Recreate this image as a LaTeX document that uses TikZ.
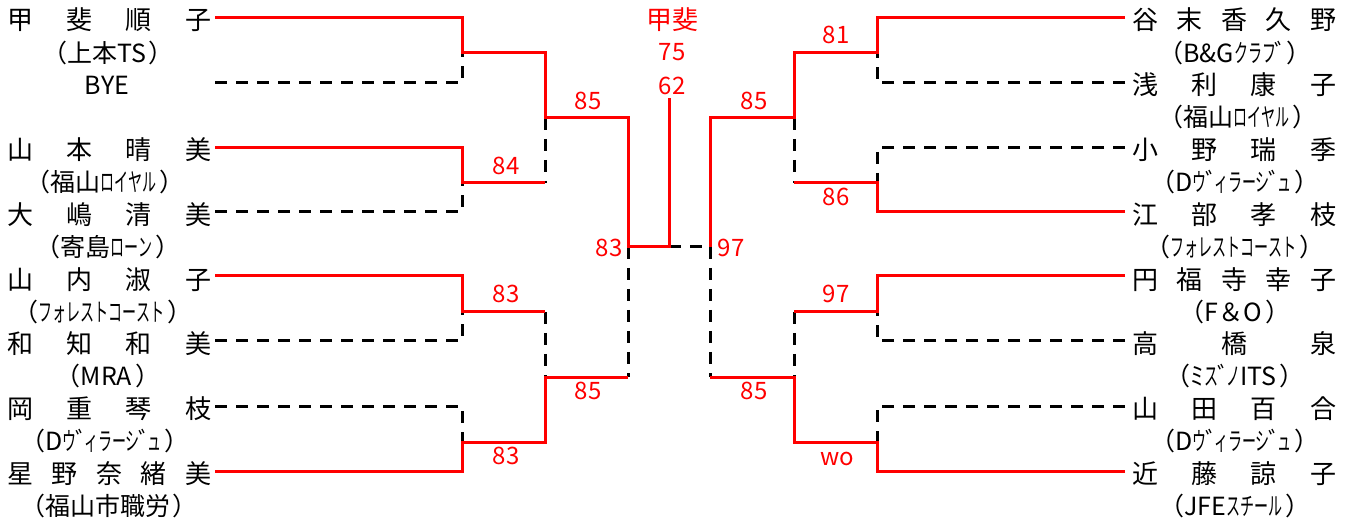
\documentclass[tikz,border=0pt]{standalone}
\usepackage{fontspec}
\usepackage{graphicx}
\setmainfont{Noto Sans CJK JP}
\newfontfamily\hk[FakeStretch=0.56]{Noto Sans CJK JP}
\newcommand\spreadname[1]{\makebox[204pt][s]{#1}}
\newcommand\club[1]{（#1\kern0.12em）}
\newcommand\dkt{\kern-0.06em ﾞ\kern-0.14em}
\tikzset{
  redline/.style={draw=red, line width=3pt, line join=miter},
  dashline/.style={draw=black, line width=3pt, dash pattern=on 12pt off 9pt},
  pname/.style={anchor=west, inner sep=0pt, font=\fontsize{26}{26}\selectfont},
  clubt/.style={inner sep=0pt, font=\fontsize{25}{25}\selectfont},
  score/.style={inner sep=0pt, text=red, font=\fontsize{24}{24}\selectfont},
}
\begin{document}
\begin{tikzpicture}[x=1pt,y=-1pt]
\useasboundingbox (0,0) rectangle (1355,521);
% ---------- left names ----------
\node[pname] (n1) at (7,20) {\spreadname{甲\hfill 斐\hfill 順\hfill 子}};
\node[clubt] (c1) at (108,53) {\club{上本TS}};
\node[clubt] (bye) at (107,85.5) {BYE};
\node[pname] (n3) at (7,150) {\spreadname{山\hfill 本\hfill 晴\hfill 美}};
\node[clubt] (c3) at (105,182) {\club{福山{\hk ロイヤル}}};
\node[pname] (n4) at (7,214.4) {\spreadname{大\hfill 嶋\hfill 清\hfill 美}};
\node[clubt] (c4) at (108,246.8) {\club{寄島{\hk ローン}}};
\node[pname] (n5) at (7,280) {\spreadname{山\hfill 内\hfill 淑\hfill 子}};
\node[clubt] (c5) at (103,311.6) {\club{{\hk フォレストコースト}}};
\node[pname] (n6) at (7,344) {\spreadname{和\hfill 知\hfill 和\hfill 美}};
\node[clubt] (c6) at (108,376.4) {\club{MRA}};
\node[pname] (n7) at (7,408.8) {\spreadname{岡\hfill 重\hfill 琴\hfill 枝}};
\node[clubt] (c7) at (105,441.2) {\club{D{\hk ウ}\dkt{\hk ィラーシ}\dkt{\hk ュ}}};
\node[pname] (n8) at (7,473.6) {\spreadname{星\hfill 野\hfill 奈\hfill 緒\hfill 美}};
\node[clubt] (c8) at (109,506) {\club{福山市職労}};
% ---------- right names ----------
\node[pname] (m1) at (1132,20) {\spreadname{谷\hfill 末\hfill 香\hfill 久\hfill 野}};
\node[clubt] (d1) at (1235,53) {\club{B\&G{\hk クラフ}\dkt}};
\node[pname] (m2) at (1132,85) {\spreadname{浅\hfill 利\hfill 康\hfill 子}};
\node[clubt] (d2) at (1238,117.2) {\club{福山{\hk ロイヤル}}};
\node[pname] (m3) at (1132,150) {\spreadname{小\hfill 野\hfill 瑞\hfill 季}};
\node[clubt] (d3) at (1235,182) {\club{D{\hk ウ}\dkt{\hk ィラーシ}\dkt{\hk ュ}}};
\node[pname] (m4) at (1132,214.4) {\spreadname{江\hfill 部\hfill 孝\hfill 枝}};
\node[clubt] (d4) at (1235,246.8) {\club{{\hk フォレストコースト}}};
\node[pname] (m5) at (1132,280) {\spreadname{円\hfill 福\hfill 寺\hfill 幸\hfill 子}};
\node[clubt] (d5) at (1235,311.6) {\club{F＆O}};
\node[pname] (m6) at (1132,344) {\spreadname{高\hfill 橋\hfill 泉}};
\node[clubt] (d6) at (1235,376.4) {\club{{\hk ミス}\dkt{\hk ノ}ITS}};
\node[pname] (m7) at (1132,408.8) {\spreadname{山\hfill 田\hfill 百\hfill 合}};
\node[clubt] (d7) at (1235,441.2) {\club{D{\hk ウ}\dkt{\hk ィラーシ}\dkt{\hk ュ}}};
\node[pname] (m8) at (1132,473.6) {\spreadname{近\hfill 藤\hfill 諒\hfill 子}};
\node[clubt] (d8) at (1235,506) {\club{JFE{\hk スチール}}};
% ---------- coordinates ----------
\foreach \i/\y in {0/18,1/83,2/148,3/212,4/276,5/341,6/406,7/471}{
  \coordinate (ls\i) at (215,\y);
  \coordinate (le\i) at (462,\y);
  \coordinate (rs\i) at (1125,\y);
  \coordinate (re\i) at (877,\y);
}
% left junctions
\coordinate (ja) at (462,53);  \coordinate (ka) at (545,53);
\coordinate (jb) at (462,183); \coordinate (kb) at (545,183);
\coordinate (jc) at (462,312); \coordinate (kc) at (545,312);
\coordinate (jd) at (462,442); \coordinate (kd) at (545,442);
\coordinate (pa) at (545,118); \coordinate (qa) at (628,118);
\coordinate (pb) at (545,377); \coordinate (qb) at (628,377);
\coordinate (sl) at (628,247); \coordinate (fl) at (669,247);
\coordinate (ft) at (669,98);  \coordinate (sr) at (710,247);
% right junctions
\coordinate (Ja) at (877,53);  \coordinate (Ka) at (794,53);
\coordinate (Jb) at (877,183); \coordinate (Kb) at (794,183);
\coordinate (Jc) at (877,312); \coordinate (Kc) at (794,312);
\coordinate (Jd) at (877,442); \coordinate (Kd) at (794,442);
\coordinate (Pa) at (794,118); \coordinate (Qa) at (710,118);
\coordinate (Pb) at (794,377); \coordinate (Qb) at (710,377);
% ---------- dashed (losers) ----------
\draw[dashline] (ls1) -- (le1) -- (ja);
\draw[dashline] (ls3) -- (le3) -- (jb);
\draw[dashline] (ls5) -- (le5) -- (jc);
\draw[dashline] (ls6) -- (le6) -- (jd);
\draw[dashline] (pa) -- (kb);
\draw[dashline] (kc) -- (pb);
\draw[dashline] (sl) -- (qb);
\draw[dashline] (fl) -- (sr);
\draw[dashline] (rs1) -- (re1) -- (Ja);
\draw[dashline] (rs2) -- (re2) -- (Jb);
\draw[dashline] (rs5) -- (re5) -- (Jc);
\draw[dashline] (rs6) -- (re6) -- (Jd);
\draw[dashline] (Pa) -- (Kb);
\draw[dashline] (Kc) -- (Pb);
\draw[dashline] (sr) -- (Qb);
% ---------- red (winners) ----------
\draw[redline] (ls0) -- (le0) -- (ja) -- (ka) -- (pa) -- (qa) -- (sl) -- (fl) -- (ft);
\draw[redline] (ls2) -- (le2) -- (jb) -- (kb);
\draw[redline] (ls4) -- (le4) -- (jc) -- (kc);
\draw[redline] (ls7) -- (le7) -- (jd) -- (kd) -- (pb) -- (qb);
\draw[redline] (rs0) -- (re0) -- (Ja) -- (Ka) -- (Pa) -- (Qa) -- (sr);
\draw[redline] (rs3) -- (re3) -- (Jb) -- (Kb);
\draw[redline] (rs4) -- (re4) -- (Jc) -- (Kc);
\draw[redline] (rs7) -- (re7) -- (Jd) -- (Kd) -- (Pb) -- (Qb);
% ---------- scores ----------
\node[score, font=\fontsize{26}{26}\selectfont] (t1) at (672,20) {甲斐};
\node[score] (t2) at (672,52) {75};
\node[score] (t3) at (672,86) {62};
\node[score] (s1) at (588,101) {85};
\node[score] (s2) at (506,166) {84};
\node[score] (s3) at (609,248) {83};
\node[score] (s4) at (506,294) {83};
\node[score] (s5) at (588,391) {85};
\node[score] (s6) at (506,456) {83};
\node[score] (s7) at (731,248) {97};
\node[score] (s8) at (754,101) {85};
\node[score] (s9) at (836,35) {81};
\node[score] (s10) at (836,197) {86};
\node[score] (s11) at (836,294) {97};
\node[score] (s12) at (754,391) {85};
\node[score] (s13) at (837,459) {wo};
\end{tikzpicture}
\end{document}
